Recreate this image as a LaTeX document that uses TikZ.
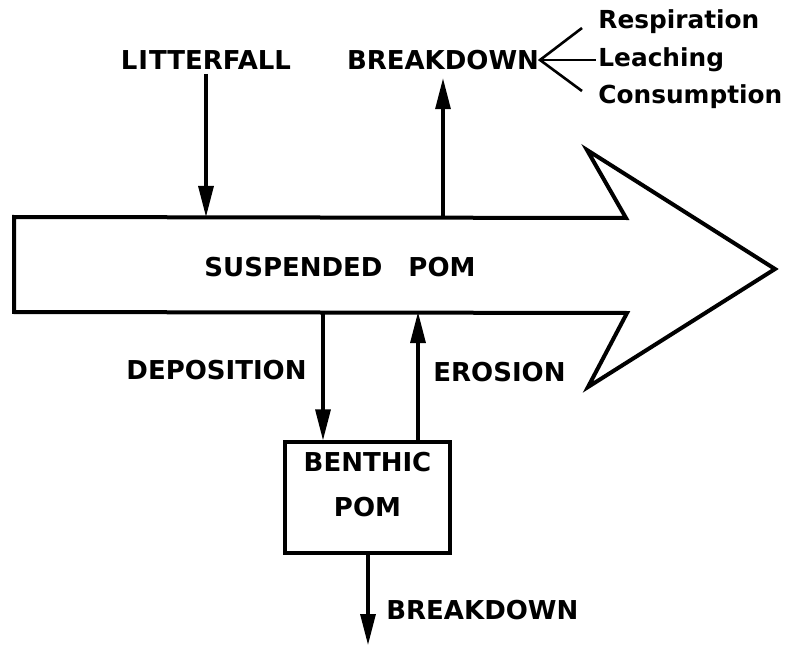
\documentclass[tikz,border=0pt]{standalone}
\usepackage{fontspec}
\setmainfont{DejaVu Sans}
\usetikzlibrary{arrows.meta,positioning}
\tikzset{
  caps/.style    = {font=\bfseries\fontsize{13}{22.5}\selectfont, inner sep=1pt},
  small/.style   = {font=\bfseries\fontsize{12.4}{15}\selectfont, inner sep=1pt, anchor=west},
  outline/.style = {draw, line width=2pt, line join=miter},
  flow/.style    = {->, line width=1.6pt},
  fork/.style    = {draw, line width=1.3pt},
  pool/.style    = {caps, draw, line width=1.6pt, inner xsep=4pt, inner ysep=5pt}
}

\begin{document}
\begin{tikzpicture}[x=0.5pt, y=-0.5pt,
  >={Triangle[length=15.5pt,width=7.5pt]}]
\useasboundingbox (0,0) rectangle (788,647);

% the big arrow of the stream, drawn as a path
\draw[outline] (14,217) coordinate (topL) -- (626,218) -- (587,150)
  -- (775,269) -- (588,387) -- (627,313) -- (14,312) coordinate (botL) -- cycle;
\node[caps] (pom) at (340,267) {SUSPENDED\hspace{1em}POM};

% inputs and losses at the top
\node[caps] (litter) at (206,60) {L\hspace{0.5pt}I\hspace{0.5pt}TTERFALL};
\node[caps] (brk) at (443,60) {BREAKDOWN};
\draw[flow] ([yshift=-1pt]litter.south) -- (litter.south |- topL);
\draw[flow] (brk.south |- topL) -- ([yshift=-3pt]brk.south);

% the three ways of breakdown
\node[small] (resp) at (596,22) {Respiration};
\node[small] (leach) at (596,60) {Leaching};
\node[small] (cons) at (596,97) {Consumption};
\coordinate (split) at (540,60);
\draw[fork] ([xshift=-7pt,yshift=-3pt]resp.west) -- (split)
  -- ([xshift=-7pt,yshift=3pt]cons.west);
\draw[fork] (split) -- (leach.west);

% the pool on the stream bed
\node[pool] (benthic) at (367.5,497.5)
  {\parbox[c][45.5pt][t]{74.5pt}{\centering BENTHIC\\POM}};
\coordinate (depo) at (323,312);
\coordinate (eros) at (418,312);
\coordinate (loss) at (368,645);
\draw[flow] (depo) -- (depo |- benthic.north);
\draw[flow] (eros |- benthic.north) -- (eros);
\draw[flow] (benthic.south -| loss) -- (loss);

\node[caps, anchor=east] (deplab) at (309,370) {DEPOSITION};
\node[caps, anchor=west] (eroslab) at (431,372) {EROSION};
\node[caps, anchor=west] (brklab) at (384,610) {BREAKDOWN};
\end{tikzpicture}
\end{document}
